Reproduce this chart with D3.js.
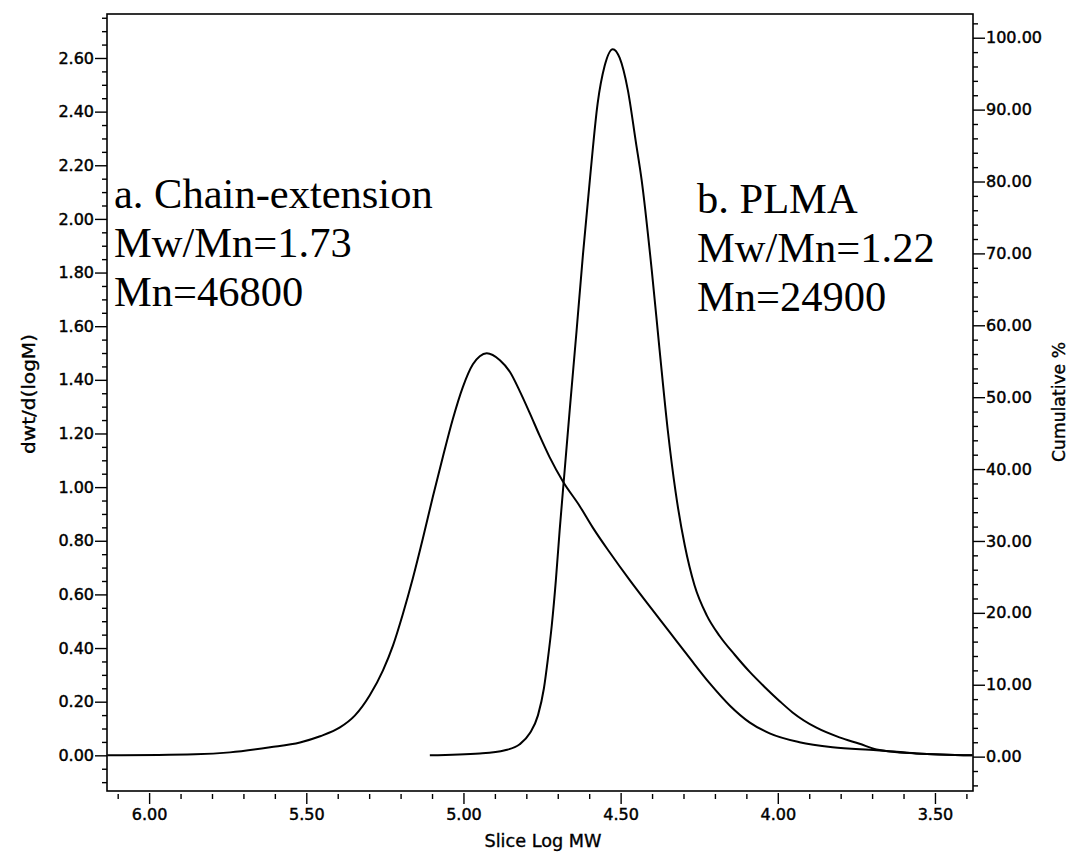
<!DOCTYPE html>
<html>
<head>
<meta charset="utf-8">
<script src="https://cdn.jsdelivr.net/npm/d3@7"></script>
<style>
  html, body { margin: 0; padding: 0; background: #fff; }
  svg { display: block; }
  .tick text { font-family: "DejaVu Sans", sans-serif; font-size: 16px; fill: #000; stroke: #000; stroke-width: 0.45; }
  .tick line { stroke: #000; stroke-width: 1.4; }
  .ttl { font-family: "DejaVu Sans", sans-serif; font-size: 17px; fill: #000; stroke: #000; stroke-width: 0.35; }
  .note { font-family: "Liberation Serif", "Times New Roman", serif; font-size: 42.5px; fill: #000; }
</style>
</head>
<body>
<script>
// GPC 分子量分布：a. 扩链产物 / b. PLMA，横轴 Slice Log MW 反向
const X_DOMAIN = [6.134, 3.379];
const Y_LEFT_DOMAIN = [-0.133, 2.764];
const Y_RIGHT_DOMAIN = [-4.78, 103.3];

const X_TICKS = [6.00, 5.50, 5.00, 4.50, 4.00, 3.50];
const Y_LEFT_TICKS = [0.00, 0.20, 0.40, 0.60, 0.80, 1.00, 1.20, 1.40, 1.60, 1.80, 2.00, 2.20, 2.40, 2.60];
const Y_RIGHT_TICKS = [0, 10, 20, 30, 40, 50, 60, 70, 80, 90, 100];

// a. Chain-extension
const LOGMW_A = [6.133, 5.854, 5.743, 5.615, 5.520, 5.456, 5.393, 5.345, 5.298, 5.256, 5.224, 5.193,
  5.161, 5.129, 5.097, 5.065, 5.034, 5.002, 4.970, 4.948, 4.926, 4.884, 4.852, 4.821, 4.789, 4.757,
  4.726, 4.684, 4.630, 4.589, 4.535, 4.471, 4.408, 4.344, 4.280, 4.217, 4.153, 4.090, 4.026, 3.931,
  3.826, 3.686, 3.559, 3.381];
const DWT_A = [0, 0.004, 0.011, 0.030, 0.048, 0.071, 0.104, 0.149, 0.224, 0.317, 0.410, 0.526,
  0.660, 0.809, 0.966, 1.115, 1.253, 1.373, 1.458, 1.488, 1.499, 1.473, 1.429, 1.358, 1.276, 1.190,
  1.112, 1.022, 0.929, 0.850, 0.757, 0.653, 0.556, 0.459, 0.362, 0.269, 0.186, 0.123, 0.082, 0.049,
  0.030, 0.019, 0.007, 0];

// b. PLMA
const LOGMW_B = [5.107, 4.948, 4.868, 4.821, 4.789, 4.763, 4.744, 4.732, 4.719, 4.706, 4.694, 4.678,
  4.662, 4.640, 4.620, 4.598, 4.573, 4.551, 4.525, 4.503, 4.477, 4.452, 4.433, 4.401, 4.376, 4.350,
  4.325, 4.296, 4.265, 4.226, 4.185, 4.137, 4.090, 4.042, 3.994, 3.953, 3.877, 3.804, 3.740, 3.686,
  3.559, 3.381];
const DWT_B = [0, 0.007, 0.019, 0.041, 0.082, 0.149, 0.250, 0.354, 0.485, 0.653, 0.839, 1.063,
  1.287, 1.585, 1.865, 2.144, 2.432, 2.570, 2.633, 2.600, 2.480, 2.290, 2.144, 1.809, 1.511, 1.212,
  0.981, 0.783, 0.634, 0.522, 0.445, 0.375, 0.312, 0.255, 0.202, 0.160, 0.103, 0.067, 0.043, 0.022,
  0.007, 0];

const NOTE_A = ["a. Chain-extension", "Mw/Mn=1.73", "Mn=46800"];
const NOTE_B = ["b. PLMA", "Mw/Mn=1.22", "Mn=24900"];

(() => {
  const W = 1070, H = 853;
  const ML = 107, MT = 14, MR = 97, MB = 62;

  const svg = d3.select("body").append("svg").attr("width", W).attr("height", H);

  const x = d3.scaleLinear().domain(X_DOMAIN).range([ML, W - MR]);
  const y = d3.scaleLinear().domain(Y_LEFT_DOMAIN).range([H - MB, MT]);
  const y2 = d3.scaleLinear().domain(Y_RIGHT_DOMAIN).range([H - MB, MT]);

  const near = (v, arr) => arr.some(t => Math.abs(t - v) < 1e-6);

  // 次刻度
  const xMinor = d3.range(61, 33, -1).map(v => v / 10).filter(v => !near(v, X_TICKS));
  const yMinor = d3.range(-2, 56).map(v => v * 0.05).filter(v => !near(v, Y_LEFT_TICKS));
  const y2Minor = d3.range(-2, 52).map(v => v * 2).filter(v => !near(v, Y_RIGHT_TICKS));

  // x 轴（刻度线与轴线之间留一点空隙）
  svg.append("g").attr("transform", `translate(0,${H - MB + 3})`)
    .call(d3.axisBottom(x).tickValues(xMinor).tickSize(5).tickFormat(""))
    .call(g => g.select(".domain").remove());
  svg.append("g").attr("transform", `translate(0,${H - MB + 2})`)
    .call(d3.axisBottom(x).tickValues(X_TICKS).tickSize(11).tickPadding(5).tickFormat(d3.format(".2f")))
    .call(g => g.select(".domain").remove());

  // 左轴
  svg.append("g").attr("transform", `translate(${ML},0)`)
    .call(d3.axisLeft(y).tickValues(yMinor).tickSize(5).tickFormat(""))
    .call(g => g.select(".domain").remove());
  svg.append("g").attr("transform", `translate(${ML},0)`)
    .call(d3.axisLeft(y).tickValues(Y_LEFT_TICKS).tickSize(12).tickPadding(1).tickFormat(d3.format(".2f")))
    .call(g => g.select(".domain").remove());

  // 右轴
  svg.append("g").attr("transform", `translate(${W - MR},0)`)
    .call(d3.axisRight(y2).tickValues(y2Minor).tickSize(5).tickFormat(""))
    .call(g => g.select(".domain").remove());
  svg.append("g").attr("transform", `translate(${W - MR},0)`)
    .call(d3.axisRight(y2).tickValues(Y_RIGHT_TICKS).tickSize(12).tickPadding(1).tickFormat(d3.format(".2f")))
    .call(g => g.select(".domain").remove());

  // 边框
  svg.append("rect").attr("x", ML).attr("y", MT)
    .attr("width", W - MR - ML).attr("height", H - MB - MT)
    .attr("fill", "none").attr("stroke", "#000").attr("stroke-width", 1.6);

  // 曲线
  const line = d3.line().x(d => x(d[0])).y(d => y(d[1])).curve(d3.curveMonotoneX);
  [[LOGMW_A, DWT_A], [LOGMW_B, DWT_B]].forEach(([lx, ly]) => {
    svg.append("path").datum(lx.map((v, i) => [v, ly[i]]))
      .attr("d", line).attr("fill", "none")
      .attr("stroke", "#000").attr("stroke-width", 2).attr("stroke-linejoin", "round");
  });

  // 轴标题
  svg.append("text").attr("class", "ttl")
    .attr("transform", `translate(35,394) rotate(-90)`).attr("text-anchor", "middle")
    .attr("textLength", 120).attr("lengthAdjust", "spacingAndGlyphs")
    .text("dwt/d(logM)");
  svg.append("text").attr("class", "ttl")
    .attr("transform", `translate(1065,402) rotate(-90)`).attr("text-anchor", "middle")
    .attr("textLength", 120).attr("lengthAdjust", "spacingAndGlyphs")
    .text("Cumulative %");
  svg.append("text").attr("class", "ttl")
    .attr("x", 543).attr("y", 847).attr("text-anchor", "middle")
    .attr("textLength", 117).attr("lengthAdjust", "spacingAndGlyphs")
    .text("Slice Log MW");

  // 注记
  NOTE_A.forEach((t, i) => svg.append("text").attr("class", "note")
    .attr("x", 114).attr("y", 208 + i * 49).text(t));
  NOTE_B.forEach((t, i) => svg.append("text").attr("class", "note")
    .attr("x", 697).attr("y", 213 + i * 49).text(t));
})();
</script>
</body>
</html>
